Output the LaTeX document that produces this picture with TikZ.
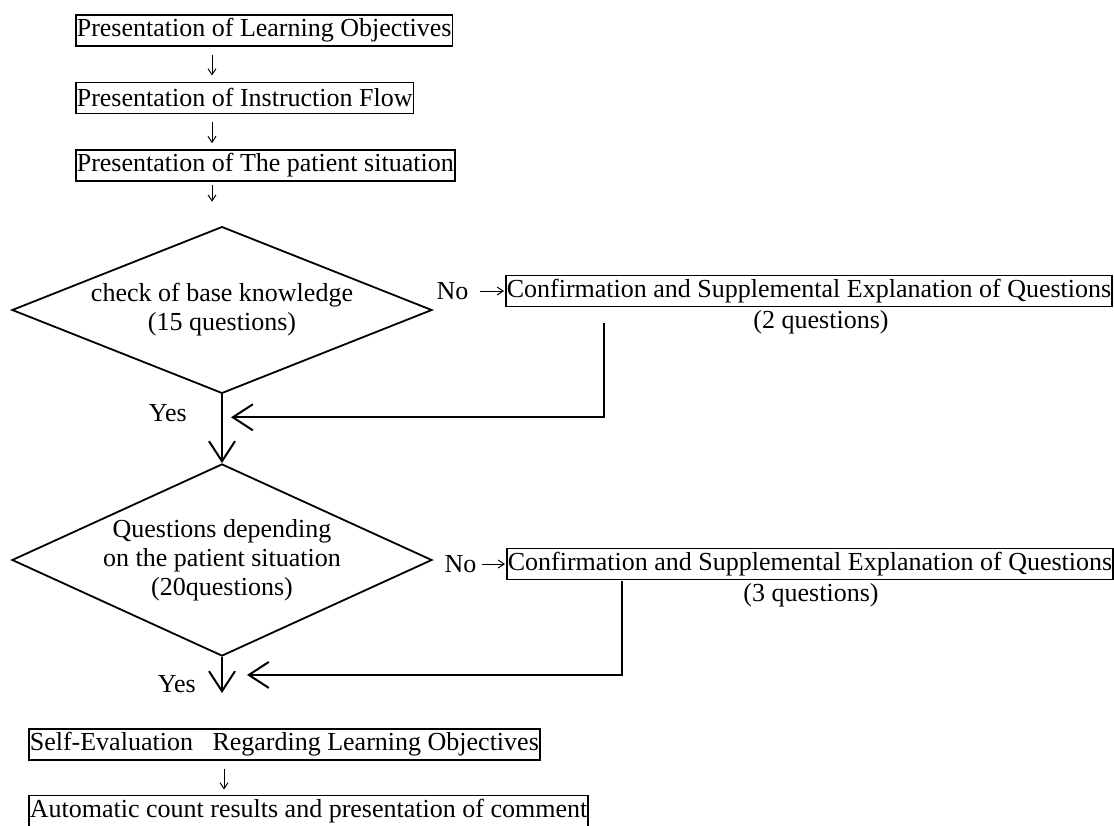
\documentclass[tikz,border=0pt]{standalone}
\usepackage{fontspec}
\setmainfont{Liberation Serif}
\usepackage{tikz}
\usetikzlibrary{arrows.meta, positioning, shapes.geometric}

\begin{document}
\begin{tikzpicture}[
    x=1pt, y=-1pt,
    stepbox/.style={rectangle, draw, line width=1.6pt, inner xsep=1pt, inner ysep=0pt, minimum height=31pt},
    decision/.style={diamond, draw, line width=1.8pt, aspect=2.3, inner sep=0pt, align=center, minimum width=420pt},
    glyph/.style={-{Straight Barb[length=6pt,width=8pt]}, line width=1pt},
    arrow/.style={-{Straight Barb[length=20pt,width=26pt]}, line width=2pt},
    every node/.style={font=\fontsize{26}{29}\selectfont}
]
\useasboundingbox (0,0) rectangle (1114,825);

% Presentation steps
\node[stepbox, anchor=north west] (pres1) at (75,14) {Presentation of Learning Objectives};
\node[stepbox, below=35pt of pres1.south west, anchor=north west] (pres2) {Presentation of Instruction Flow};
\node[stepbox, below=35pt of pres2.south west, anchor=north west] (pres3) {Presentation of The patient situation};

% Question blocks
\node[decision, minimum height=164pt] (d1) at (222,310) {check of base knowledge\\(15 questions)};
\node[stepbox, anchor=west] (conf1) at (505,291) {Confirmation and Supplemental Explanation of Questions};
\node[below=0pt of conf1, xshift=12pt] (conf1note) {(2 questions)};
\node[left=33pt of conf1] (no1) {No};

\node[decision, aspect=2.15, minimum height=192pt] (d2) at (222,560) {Questions depending\\on the patient situation\\(20questions)};
\node[stepbox, anchor=west] (conf2) at (506,564) {Confirmation and Supplemental Explanation of Questions};
\node[below=0pt of conf2, xshift=1pt] (conf2note) {(3 questions)};
\node[left=26pt of conf2] (no2) {No};

% Evaluation
\node[stepbox, anchor=north west] (selfeval) at (28,728) {Self-Evaluation\ \ \ Regarding Learning Objectives};
\node[stepbox, below=34pt of selfeval.south west, anchor=north west] (autocount) {Automatic count results and presentation of comment};

\coordinate (merge1) at ([xshift=9pt,yshift=-23pt]d1.south);
\coordinate (merge2) at ([xshift=25pt,yshift=-18pt]d2.south);

% Arrows
\draw[glyph, shorten <=8pt, shorten >=6pt] ([xshift=137pt]pres1.south west) -- ([xshift=137pt]pres2.north west);
\draw[glyph, shorten <=8pt, shorten >=6pt] ([xshift=137pt]pres2.south west) -- ([xshift=137pt]pres3.north west);
\draw[glyph, shorten <=3pt, shorten >=24pt] ([xshift=137pt]pres3.south west) -- ([xshift=137pt]pres3.south west |- d1.north);
\draw[glyph, shorten <=8pt, shorten >=1pt] (no1) -- (conf1);
\draw[glyph, shorten <=2pt, shorten >=1pt] (no2) -- (conf2);
\draw[arrow] (d1.south) -- node[pos=0.28, left=31pt] (yes1) {Yes} (d2.north);
\draw[arrow] ([xshift=99pt,yshift=-16pt]conf1.south west) |- (merge1);
\draw[arrow, shorten >=35pt] (d2.south) -- node[pos=0.38, left=22pt] (yes2) {Yes} (d2.south |- selfeval.north);
\draw[arrow] ([xshift=116pt,yshift=-1pt]conf2.south west) |- (merge2);
\draw[glyph, shorten <=8pt, shorten >=5pt] ([xshift=196pt]selfeval.south west) -- ([xshift=196pt]autocount.north west);

\end{tikzpicture}
\end{document}
